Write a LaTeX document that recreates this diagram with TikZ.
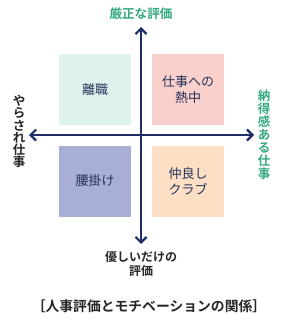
\documentclass[tikz,border=0pt]{standalone}
\usepackage{fontspec}
\setmainfont{Noto Sans CJK JP}[BoldFont={Noto Sans CJK JP Bold}]
\usetikzlibrary{arrows.meta}

\definecolor{axisnavy}{RGB}{31,45,107}
\definecolor{labelgreen}{RGB}{52,168,128}
\definecolor{boxmint}{RGB}{221,243,236}
\definecolor{boxpink}{RGB}{249,208,203}
\definecolor{boxlilac}{RGB}{169,174,214}
\definecolor{boxpeach}{RGB}{253,223,198}
\definecolor{boxtext}{RGB}{35,50,90}

\tikzset{every picture/.style={line width=0.75pt}}
\tikzset{
  quadbox/.style={minimum width=72pt,minimum height=71pt,inner sep=0pt,draw=none,
    font=\fontsize{13}{16}\selectfont,text=boxtext,align=center},
  axislabel/.style={inner sep=0.75pt,align=center,font=\bfseries\fontsize{12}{14.5}\selectfont},
  vertchar/.style={inner sep=0pt,font=\bfseries\fontsize{12.5}{13}\selectfont},
  axisarrow/.style={draw=axisnavy,line width=2.4pt,-{Straight Barb[length=5.5pt,width=11pt,line width=2.2pt]}}
}

\begin{document}
\begin{tikzpicture}[x=1pt,y=1pt,yscale=-1,xscale=1]
\useasboundingbox (0,0) rectangle (300,326);

%Shape: Rectangle [quadrants]
\node [quadbox,fill=boxmint] (leave) at (95,89.5) {離職};
\node [quadbox,fill=boxpink] (absorb) at (188,89.5) {仕事への\\熱中};
\node [quadbox,fill=boxlilac] (perch) at (95,181) {腰掛け};
\node [quadbox,fill=boxpeach] (club) at (188,181) {仲良し\\クラブ};

%Axes
\coordinate (center) at (141,135);
\coordinate (ytop) at (141,27);
\coordinate (ybot) at (141,244);
\coordinate (xleft) at (29,135);
\coordinate (xright) at (254,135);
\draw [axisarrow] (center) -- (ytop);
\draw [axisarrow] (center) -- (ybot);
\draw [axisarrow] (center) -- (xleft);
\draw [axisarrow] (center) -- (xright);

% Text Node
\node [axislabel,text=labelgreen,font=\bfseries\fontsize{12.6}{15}\selectfont] (strict) at (141,14) {厳正な評価};
\node [axislabel,text=black!85] (kind) at (141,264) {優しいだけの\\評価};
% vertical labels, one character per node
\foreach \ch [count=\i] in {や,ら,さ,れ,仕,事}
  \node [vertchar,text=black!85] (forced-\i) at (19,89+12.2*\i) {\ch};
\foreach \ch [count=\i] in {納,得,感,あ,る,仕,事}
  \node [vertchar,text=labelgreen] (convinced-\i) at (264,83+13*\i) {\ch};
\node [inner sep=0.75pt,font=\bfseries\fontsize{13.8}{16}\selectfont,text=black!85] (caption) at (149,306) {［人事評価とモチベーションの関係］};

\end{tikzpicture}
\end{document}
